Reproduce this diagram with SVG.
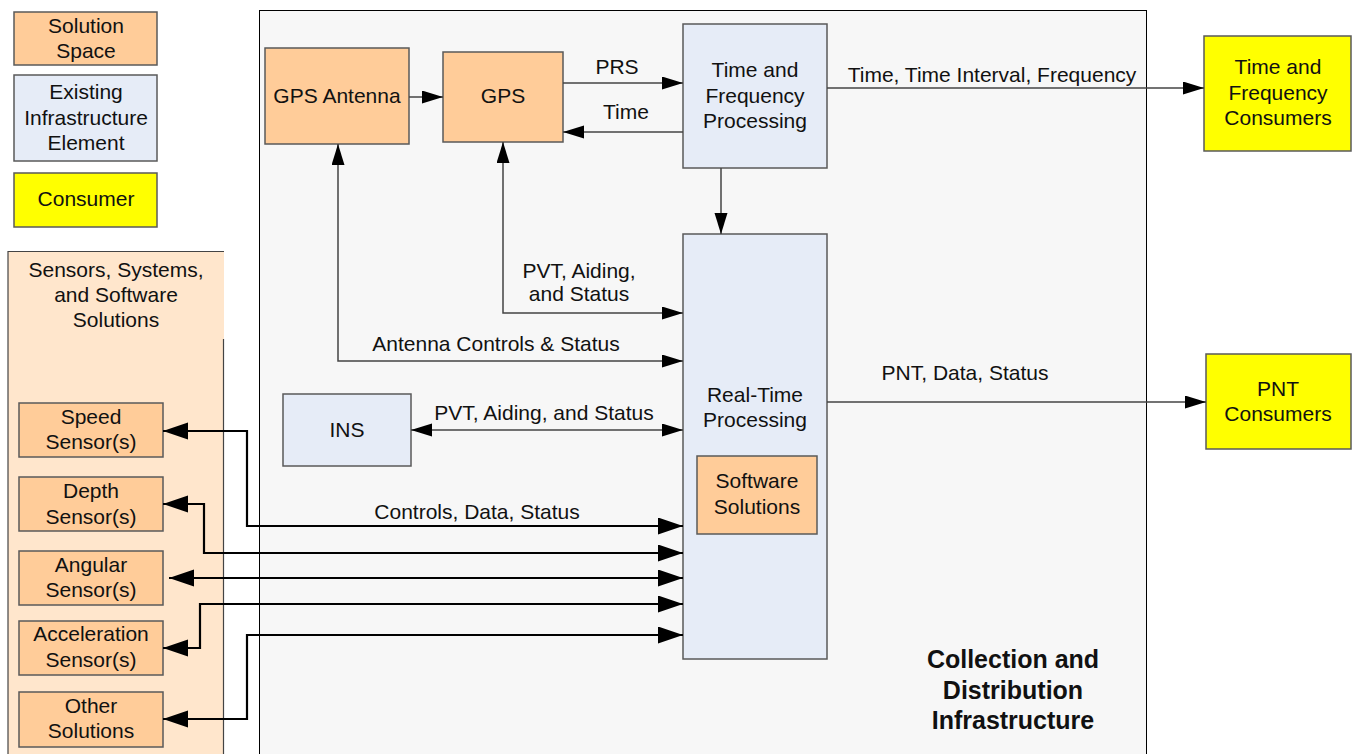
<svg xmlns="http://www.w3.org/2000/svg" width="1354" height="754" viewBox="0 0 1354 754">
<defs>
<style>
text{font-family:"Liberation Sans",Arial,sans-serif;font-size:21px;fill:#111;text-anchor:middle}
.title{font-weight:bold;font-size:25px}
.sol{fill:#FFCC99;stroke:#5a5a5a;stroke-width:1.5}
.inf{fill:#E6ECF7;stroke:#5a5a5a;stroke-width:1.5}
.con{fill:#FFFF00;stroke:#5a5a5a;stroke-width:1.5}
.thin{fill:none;stroke:#444;stroke-width:1.5}
.thick{fill:none;stroke:#000;stroke-width:2.2}
</style>
<marker id="a" markerUnits="userSpaceOnUse" markerWidth="22" markerHeight="14" refX="21" refY="6.5" orient="auto-start-reverse"><path d="M0,0 L21,6.5 L0,13 z" fill="#000"/></marker>
<marker id="b" markerUnits="userSpaceOnUse" markerWidth="26" markerHeight="18" refX="25" refY="8.5" orient="auto-start-reverse"><path d="M0,0 L25,8.5 L0,17 z" fill="#000"/></marker>
</defs>
<rect width="1354" height="754" fill="#fff"/>

<g id="container">
<rect x="259.5" y="10.5" width="887" height="760" fill="#F7F7F7" stroke="#000" stroke-width="1"/>
<text class="title" x="1013" y="668">Collection and</text>
<text class="title" x="1013" y="699">Distribution</text>
<text class="title" x="1013" y="729">Infrastructure</text>
</g>

<g id="legend-solution"><rect class="sol" x="14" y="12" width="143" height="53"/><text x="86" y="33">Solution</text><text x="86" y="58">Space</text></g>
<g id="legend-existing"><rect class="inf" x="14" y="75" width="143" height="86"/><text x="86" y="99">Existing</text><text x="86" y="125">Infrastructure</text><text x="86" y="150">Element</text></g>
<g id="legend-consumer"><rect class="con" x="14" y="173" width="143" height="54"/><text x="86" y="206">Consumer</text></g>

<g id="sensors-panel">
<rect x="8" y="251" width="216" height="510" fill="#FFE6CC"/>
<path d="M8,760 V251.5 H224 M223.5,339 V760" fill="none" stroke="#444" stroke-width="1.2"/>
<text x="116" y="277">Sensors, Systems,</text><text x="116" y="302">and Software</text><text x="116" y="327">Solutions</text>
</g>
<g id="speed"><rect class="sol" x="19" y="403" width="144" height="54"/><text x="91" y="424">Speed</text><text x="91" y="449">Sensor(s)</text></g>
<g id="depth"><rect class="sol" x="19" y="477" width="144" height="54"/><text x="91" y="498">Depth</text><text x="91" y="524">Sensor(s)</text></g>
<g id="angular"><rect class="sol" x="19" y="551" width="144" height="54"/><text x="91" y="572">Angular</text><text x="91" y="597">Sensor(s)</text></g>
<g id="accel"><rect class="sol" x="19" y="621" width="144" height="54"/><text x="91" y="641">Acceleration</text><text x="91" y="667">Sensor(s)</text></g>
<g id="other"><rect class="sol" x="19" y="692" width="144" height="55"/><text x="91" y="713">Other</text><text x="91" y="738">Solutions</text></g>

<g id="gps-antenna"><rect class="sol" x="265" y="48" width="144" height="96"/><text x="337" y="103">GPS Antenna</text></g>
<g id="gps"><rect class="sol" x="443" y="52" width="120" height="90"/><text x="503" y="103">GPS</text></g>
<g id="tf"><rect class="inf" x="683" y="24" width="144" height="144"/><text x="755" y="77">Time and</text><text x="755" y="103">Frequency</text><text x="755" y="128">Processing</text></g>
<g id="rt"><rect class="inf" x="683" y="234" width="144" height="425"/><text x="755" y="402">Real-Time</text><text x="755" y="427">Processing</text></g>
<g id="sw"><rect class="sol" x="697" y="456" width="120" height="78"/><text x="757" y="488">Software</text><text x="757" y="514">Solutions</text></g>
<g id="ins"><rect class="inf" x="283" y="394" width="128" height="72"/><text x="347" y="437">INS</text></g>
<g id="tf-consumers"><rect class="con" x="1204" y="36" width="147" height="115"/><text x="1278" y="74">Time and</text><text x="1278" y="100">Frequency</text><text x="1278" y="125">Consumers</text></g>
<g id="pnt-consumers"><rect class="con" x="1206" y="354" width="145" height="95"/><text x="1278" y="396">PNT</text><text x="1278" y="421">Consumers</text></g>

<g id="connectors">
<path class="thin" d="M409,97 H443" marker-end="url(#a)"/>
<path class="thin" d="M563,83 H683" marker-end="url(#a)"/>
<path class="thin" d="M683,132 H563" marker-end="url(#a)"/>
<path class="thin" d="M827,88 H1204" marker-end="url(#a)"/>
<path class="thin" d="M721,168 V234" marker-end="url(#a)"/>
<path class="thin" d="M683,313 H503 V142" marker-start="url(#a)" marker-end="url(#a)"/>
<path class="thin" d="M683,361 H338 V144" marker-start="url(#a)" marker-end="url(#a)"/>
<path class="thin" d="M411,430 H683" marker-start="url(#a)" marker-end="url(#a)"/>
<path class="thin" d="M827,402 H1206" marker-end="url(#a)"/>
<path class="thick" d="M163,431 H247 V526 H683" marker-start="url(#b)" marker-end="url(#b)"/>
<path class="thick" d="M163,504 H204 V553 H683" marker-start="url(#b)" marker-end="url(#b)"/>
<path class="thick" d="M169,578 H683" marker-start="url(#b)" marker-end="url(#b)"/>
<path class="thick" d="M163,648 H200 V604 H683" marker-start="url(#b)" marker-end="url(#b)"/>
<path class="thick" d="M163,719 H247 V635 H683" marker-start="url(#b)" marker-end="url(#b)"/>
<text x="617" y="74">PRS</text>
<text x="626" y="119">Time</text>
<text x="992" y="82">Time, Time Interval, Frequency</text>
<text x="579" y="278">PVT, Aiding,</text>
<text x="579" y="301">and Status</text>
<text x="496" y="351">Antenna Controls &amp; Status</text>
<text x="544" y="420">PVT, Aiding, and Status</text>
<text x="965" y="380">PNT, Data, Status</text>
<text x="477" y="519">Controls, Data, Status</text>
</g>
</svg>
